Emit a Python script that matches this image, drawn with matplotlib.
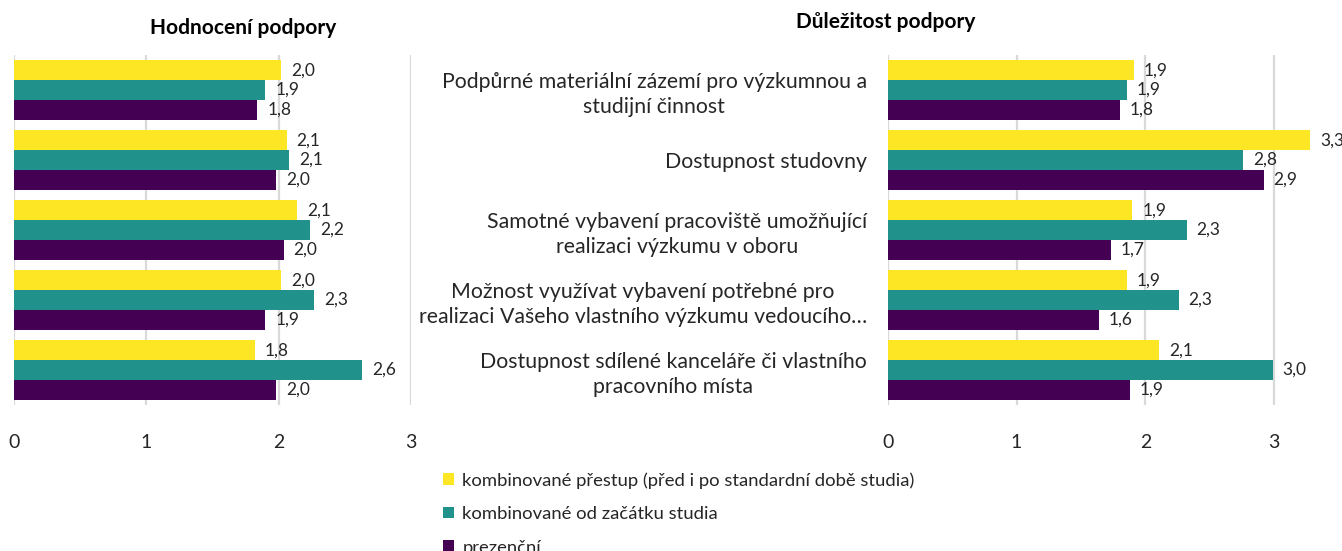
import matplotlib
matplotlib.use("Agg")
import matplotlib.pyplot as plt
from matplotlib.patches import Patch

plt.rcParams["font.family"] = ["Lato", "DejaVu Sans"]

series_names = [
    "kombinované přestup (před i po standardní době studia)",
    "kombinované od začátku studia",
    "prezenční",
]
series_colors = ["#FDE725", "#21918C", "#440154"]

categories = [
    "Podpůrné materiální zázemí pro výzkumnou a\nstudijní činnost",
    "Dostupnost studovny",
    "Samotné vybavení pracoviště umožňující\nrealizaci výzkumu v oboru",
    "Možnost využívat vybavení potřebné pro\nrealizaci Vašeho vlastního výzkumu vedoucího…",
    "Dostupnost sdílené kanceláře či vlastního\npracovního místa",
]

# Hodnocení podpory
rating_combined_transfer = [2.02, 2.06, 2.14, 2.02, 1.82]
rating_combined_start = [1.90, 2.08, 2.24, 2.27, 2.63]
rating_fulltime = [1.84, 1.98, 2.04, 1.90, 1.98]

# Důležitost podpory
importance_combined_transfer = [1.91, 3.28, 1.90, 1.86, 2.11]
importance_combined_start = [1.86, 2.76, 2.32, 2.26, 2.99]
importance_fulltime = [1.80, 2.92, 1.73, 1.64, 1.88]

BAR_H = 0.282
GRID = "#d9d9d9"
TEXT = "#262626"


def draw_panel(ax, series, xmax):
    n = len(series[0])
    for i, (vals, color) in enumerate(zip(series, series_colors)):
        offset = (i - 1) * BAR_H
        ys = [k + offset for k in range(n)]
        ax.barh(ys, vals, height=BAR_H, color=color, zorder=2)
        for y, v in zip(ys, vals):
            ax.annotate(f"{v:.1f}".replace(".", ","), (v, y), xytext=(7, 0),
                        textcoords="offset points", va="center", ha="left",
                        fontsize=12.5, color=TEXT)
    ax.set_xlim(0, xmax)
    ax.set_ylim(n - 0.5, -0.5)
    ax.set_xticks([0, 1, 2, 3])
    ax.set_xticklabels(["0", "1", "2", "3"])
    ax.xaxis.grid(True, color=GRID, linewidth=1.6, zorder=0)
    ax.set_axisbelow(True)
    for s in ax.spines.values():
        s.set_visible(False)
    ax.tick_params(axis="x", length=0, pad=21, labelsize=14, labelcolor=TEXT)
    ax.tick_params(axis="y", length=0)


fig = plt.figure(figsize=(13.42, 5.51), dpi=100)

ax1 = fig.add_axes([14 / 1342, 1 - 405 / 551, 397 / 1342, 350 / 551])
draw_panel(ax1, [rating_combined_transfer, rating_combined_start, rating_fulltime], 3)
ax1.set_yticks([])

ax2 = fig.add_axes([887.7 / 1342, 1 - 405 / 551, 450.8 / 1342, 350 / 551])
draw_panel(ax2, [importance_combined_transfer, importance_combined_start, importance_fulltime], 3.5)
ax2.set_yticks(range(len(categories)))
ax2.set_yticklabels(categories, fontsize=15.3, color=TEXT, multialignment="center",
                    linespacing=1.3)
ax2.tick_params(axis="y", pad=15)

fig.text(243 / 1342, 1 - 28 / 551, "Hodnocení podpory", ha="center", va="center",
         fontsize=15, fontweight="bold", color="#000000")
fig.text(886 / 1342, 1 - 22 / 551, "Důležitost podpory", ha="center", va="center",
         fontsize=15, fontweight="bold", color="#000000")

handles = [Patch(facecolor=c, edgecolor="none") for c in series_colors]
fig.legend(handles, series_names, loc="upper left", bbox_to_anchor=(443 / 1342, 1 - 472 / 551),
           frameon=False, fontsize=13.3, handlelength=0.6, handleheight=0.6,
           handletextpad=0.45, labelspacing=0.95, borderaxespad=0, borderpad=0,
           labelcolor=TEXT)

fig.savefig("out.png", dpi=100)
